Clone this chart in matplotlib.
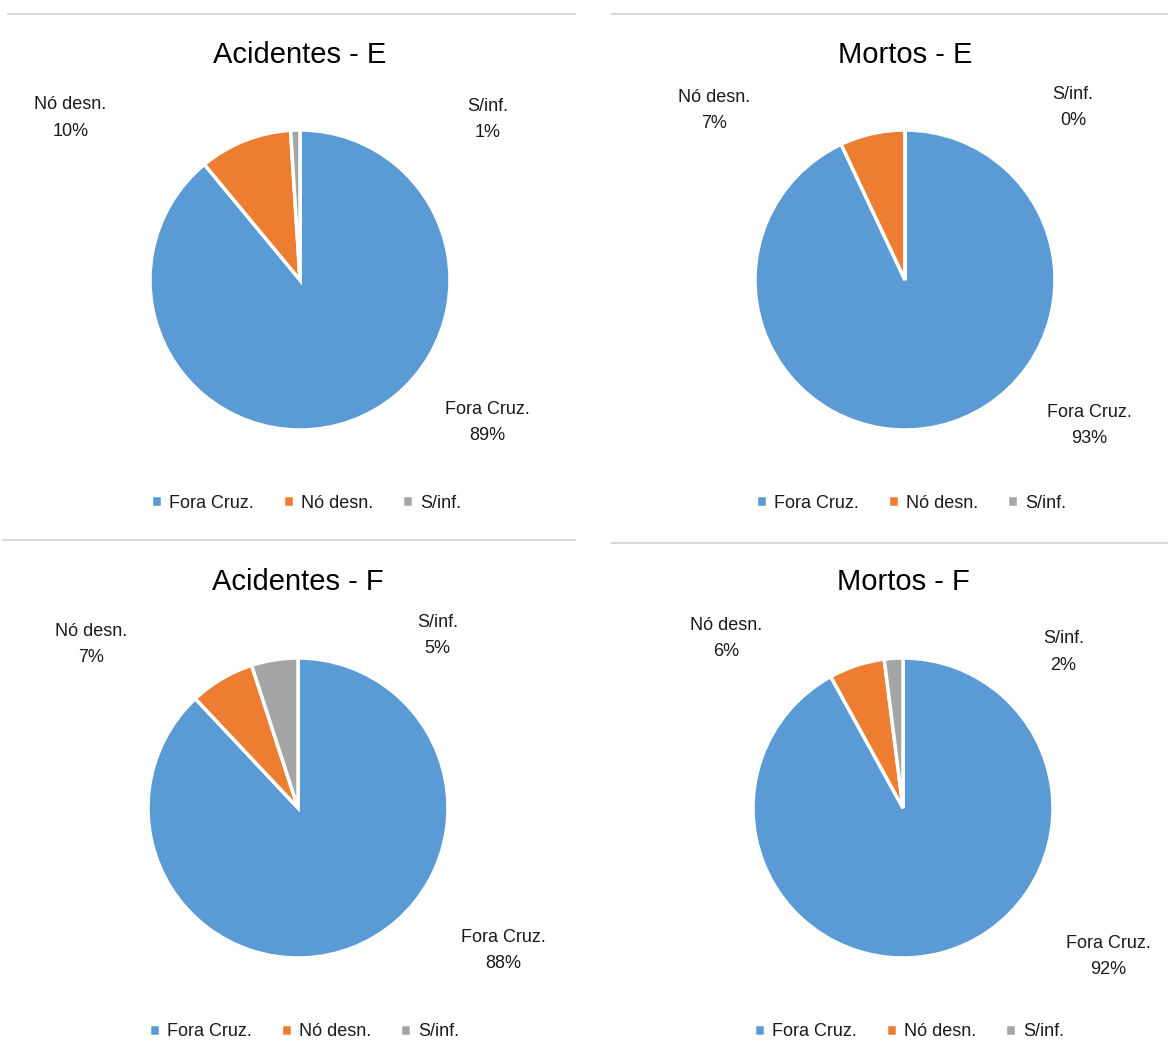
import numpy as np
import matplotlib.pyplot as plt
from matplotlib.lines import Line2D

# dados (%)
categorias = ['Fora Cruz.', 'Nó desn.', 'S/inf.']
titulos = ['Acidentes - E', 'Mortos - E', 'Acidentes - F', 'Mortos - F']
acid_E = [89, 10, 1]
mortos_E = [93, 7, 0]
acid_F = [88, 7, 5]
mortos_F = [92, 6, 2]
series = [acid_E, mortos_E, acid_F, mortos_F]

cores = ['#5B9BD5', '#ED7D31', '#A5A5A5']

W, H = 1168, 1044
R = 150
# centro da pizza em pixels (x, y de cima)
centros = [(300, 280), (905, 280), (298, 808), (903, 808)]
titulo_y = [55, 55, 582, 582]
legenda = [(306, 503), (911, 503), (304, 1032), (909, 1032)]
# posicao dos rotulos em unidades de raio (Fora, No, S/inf)
pos_rot = [
    [(1.25, -0.95), (-1.53, 1.08), (1.25, 1.07)],
    [(1.23, -0.97), (-1.27, 1.13), (1.12, 1.15)],
    [(1.37, -0.95), (-1.38, 1.09), (0.93, 1.15)],
    [(1.37, -0.99), (-1.18, 1.13), (1.07, 1.04)],
]
separadores = [(8, 575, 14), (612, 1168, 14), (3, 575, 540), (612, 1168, 543)]

plt.rcParams['font.family'] = ['Liberation Sans', 'DejaVu Sans']

fig = plt.figure(figsize=(W / 100, H / 100), dpi=100)

for x0, x1, y in separadores:
    fig.add_artist(Line2D([x0 / W, x1 / W], [1 - y / H, 1 - y / H], color='#d9d9d9', lw=1.5))

for i, vals in enumerate(series):
    cx, cy = centros[i]
    ax = fig.add_axes([(cx - R) / W, 1 - (cy + R) / H, 2 * R / W, 2 * R / H])
    wedges, _ = ax.pie(vals, colors=cores, startangle=90, counterclock=False,
                       wedgeprops=dict(edgecolor='white', linewidth=2.5))
    ax.set_xlim(-1, 1)
    ax.set_ylim(-1, 1)
    ax.set_aspect('equal')
    ax.axis('off')
    for j, v in enumerate(vals):
        px, py = pos_rot[i][j]
        ax.text(px, py, f'{categorias[j]}\n{v}%', ha='center', va='center',
                fontsize=13, linespacing=1.7, color='#1a1a1a')
    fig.text(cx / W, 1 - titulo_y[i] / H, titulos[i], ha='center', va='center',
             fontsize=21, color='#000000')
    lx, ly = legenda[i]
    fig.legend(wedges, categorias, loc='center', bbox_to_anchor=(lx / W, 1 - ly / H),
               ncol=3, frameon=False, fontsize=13, handlelength=0.6, handleheight=0.6,
               handletextpad=0.4, columnspacing=1.6, labelcolor='#1a1a1a')

fig.savefig('out.png', dpi=100)
